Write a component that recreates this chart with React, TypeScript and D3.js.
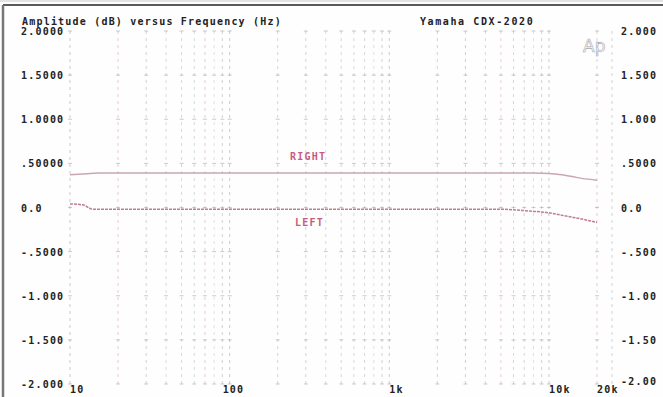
import React from "react";
import * as d3 from "d3";

// Frequency response of both channels (dB vs Hz)
const rightFreq = [10, 12, 15, 20, 50, 100, 1000, 5000, 8000, 10000, 12000, 14000, 16000, 20000];
const rightDb = [0.37, 0.38, 0.39, 0.39, 0.39, 0.39, 0.39, 0.39, 0.39, 0.385, 0.37, 0.35, 0.33, 0.31];
const leftFreq = [10, 12, 14, 20, 50, 100, 1000, 5000, 7500, 10000, 13000, 16000, 20000];
const leftDb = [0.04, 0.03, -0.02, -0.02, -0.02, -0.02, -0.02, -0.02, -0.04, -0.06, -0.1, -0.13, -0.17];

const yTicks = [2, 1.5, 1, 0.5, 0, -0.5, -1, -1.5, -2];
const yLabelsLeft = ["2.0000", "1.5000", "1.0000", ".50000", "0.0", "-.5000", "-1.000", "-1.500", "-2.000"];
const yLabelsRight = ["2.000", "1.500", "1.000", ".5000", "0.0", "-.500", "-1.00", "-1.50", "-2.00"];
const xTicks = [10, 100, 1000, 10000, 20000];
const xLabels = ["10", "100", "1k", "10k", "20k"];

const W = 663;
const H = 397;
const FONT = "'DejaVu Sans Mono', monospace";

export default function App() {
  const x = d3.scaleLog().domain([10, 20000]).range([70, 597]);
  const y = d3.scaleLinear().domain([-2, 2]).range([384, 31]);

  // Grid frequencies: 1..9 within each decade, up to 20 kHz
  const gridFreqs: number[] = [];
  for (let dec = 10; dec <= 10000; dec *= 10) {
    for (let m = 1; m <= 9; m++) {
      const f = dec * m;
      if (f <= 20000) gridFreqs.push(f);
    }
  }
  const gridColors = ["#9a9a9a", "#d39aab", "#a9a9a9", "#b7b7b7", "#d7a3b2", "#9fbcae", "#b0b0b0", "#c4c4c4", "#a8a8a8"];

  const line = d3
    .line<[number, number]>()
    .x((d) => x(d[0]))
    .y((d) => y(d[1]))
    .curve(d3.curveMonotoneX);

  const rightPts = rightFreq.map((f, i) => [f, rightDb[i]] as [number, number]);
  const leftPts = leftFreq.map((f, i) => [f, leftDb[i]] as [number, number]);

  const labelStyle = {
    fontFamily: FONT,
    fontWeight: "bold" as const,
    fontSize: 10,
    letterSpacing: 1.2,
  };

  return (
    <svg width={W} height={H} style={{ position: "absolute", left: 0, top: 0, background: "#fff" }}>
      <rect x={0} y={0} width={W} height={H} fill="#fefefe" />
      {/* page border */}
      <line x1={0} y1={1} x2={W} y2={1} stroke="#c8c8c8" strokeWidth={1} />
      <line x1={3} y1={5} x2={W} y2={5} stroke="#5a5a5a" strokeWidth={2} />
      <line x1={3} y1={5} x2={3} y2={H} stroke="#777" strokeWidth={2.5} />

      {/* vertical grid */}
      {gridFreqs.map((f, i) => (
        <line
          key={"g" + f}
          x1={x(f)}
          x2={x(f)}
          y1={y(2)}
          y2={y(-2)}
          stroke={gridColors[i % 9]}
          strokeWidth={1}
          strokeDasharray="3,4"
          opacity={0.5}
        />
      ))}
      <line x1={612} x2={612} y1={y(2)} y2={y(-2)} stroke="#aaa" strokeDasharray="3,4" opacity={0.5} />

      {/* small crossing marks at each dB level */}
      {yTicks.map((t) =>
        gridFreqs.map((f) => (
          <line
            key={"m" + t + "-" + f}
            x1={x(f) - 2}
            x2={x(f) + 2}
            y1={y(t)}
            y2={y(t)}
            stroke="#9a9a9a"
            strokeWidth={1}
            opacity={0.5}
          />
        ))
      )}

      {/* curves */}
      <path d={line(rightPts) || ""} fill="none" stroke="#c9a6b0" strokeWidth={1.5} />
      <path d={line(leftPts) || ""} fill="none" stroke="#bd7f90" strokeWidth={1.5} strokeDasharray="3,1" />

      {/* curve labels */}
      <text x={290} y={160} {...labelStyle} fill="#c85a7c">
        RIGHT
      </text>
      <text x={295} y={226} {...labelStyle} fill="#c85a7c">
        LEFT
      </text>

      {/* title */}
      <text x={22} y={25} {...labelStyle} fill="#222">
        Amplitude (dB) versus Frequency (Hz)
      </text>
      <text x={420} y={25} {...labelStyle} letterSpacing={1.6} fill="#222">
        Yamaha CDX-2020
      </text>
      <text
        x={583}
        y={52}
        fontFamily="'DejaVu Sans', sans-serif"
        fontSize={17}
        fill="none"
        stroke="#a8a8a8"
        strokeWidth={0.6}
      >
        Ap
      </text>

      {/* y labels */}
      {yTicks.map((t, i) => (
        <text key={"yl" + t} x={21} y={y(t) + 4} {...labelStyle} fill="#222">
          {yLabelsLeft[i]}
        </text>
      ))}
      {yTicks.map((t, i) => (
        <text key={"yr" + t} x={621} y={y(t) + (t === -2 ? 1 : 4)} {...labelStyle} fill="#222">
          {yLabelsRight[i]}
        </text>
      ))}

      {/* x labels */}
      {xTicks.map((f, i) => (
        <text key={"xl" + f} x={x(f) + (f === 100 ? -7 : 0)} y={393} {...labelStyle} fill="#222">
          {xLabels[i]}
        </text>
      ))}
    </svg>
  );
}
